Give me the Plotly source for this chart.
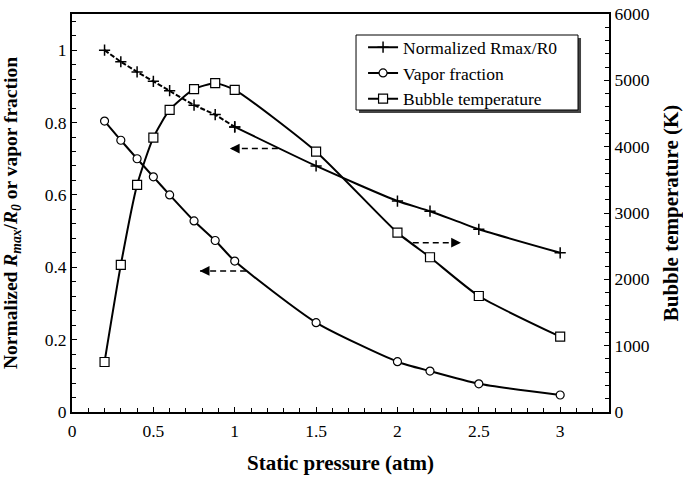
import plotly.graph_objects as go

pressure = [0.2, 0.3, 0.4, 0.5, 0.6, 0.75, 0.88, 1.0, 1.5, 2.0, 2.2, 2.5, 3.0]
rmax_norm = [1.0, 0.968, 0.940, 0.914, 0.888, 0.848, 0.822, 0.788, 0.680, 0.583, 0.555, 0.505, 0.440]
vapor_frac = [0.804, 0.751, 0.700, 0.650, 0.600, 0.528, 0.474, 0.417, 0.247, 0.139, 0.113, 0.078, 0.047]
bubble_temp = [754, 2217, 3423, 4137, 4554, 4866, 4957, 4856, 3925, 2704, 2333, 1749, 1136]

FONT = "Liberation Serif, Times New Roman, Times, serif"
fig = go.Figure()

n_dash = pressure.index(1.0) + 1
fig.add_trace(go.Scatter(
    x=pressure[n_dash - 1:], y=rmax_norm[n_dash - 1:], name="Normalized Rmax/R0",
    mode="lines+markers", line=dict(color="black", width=2, shape="spline", smoothing=0.6),
    marker=dict(symbol="cross-thin", size=8, line=dict(color="black", width=1.5))))
fig.add_trace(go.Scatter(
    x=pressure[:n_dash], y=rmax_norm[:n_dash], showlegend=False,
    mode="lines+markers", line=dict(color="black", width=2, dash="5px,2px"),
    marker=dict(symbol="cross-thin", size=8, line=dict(color="black", width=1.5))))
fig.add_trace(go.Scatter(
    x=pressure, y=vapor_frac, name="Vapor fraction",
    mode="lines+markers", line=dict(color="black", width=2, shape="spline", smoothing=0.6),
    marker=dict(symbol="circle", size=8, color="white", line=dict(color="black", width=1.2))))
fig.add_trace(go.Scatter(
    x=pressure, y=bubble_temp, name="Bubble temperature", yaxis="y2",
    mode="lines+markers", line=dict(color="black", width=2, shape="spline", smoothing=0.6),
    marker=dict(symbol="square", size=9, color="white", line=dict(color="black", width=1.2))))

arrows = [(1.265, 0.728, 0.97, 0.728), (1.07, 0.390, 0.785, 0.390), (2.094, 0.468, 2.39, 0.468)]
for tx, ty, hx, hy in arrows:
    fig.add_shape(type="line", x0=tx, y0=ty, x1=hx, y1=hy, xref="x", yref="y",
                  line=dict(color="black", width=1.5, dash="6px,4px"))
    fig.add_annotation(x=hx, y=hy, xref="x", yref="y", ax=(8 if tx > hx else -8), ay=0,
                       showarrow=True, arrowhead=2, arrowsize=1.3, arrowwidth=1.5,
                       arrowcolor="black", text=" ")

# legend frame with drop shadow
fig.add_shape(type="rect", xref="paper", yref="paper", x0=0.5345, x1=0.9479, y0=0.7513, y1=0.9397,
              fillcolor="#444", line=dict(width=0), layer="above")
fig.add_shape(type="rect", xref="paper", yref="paper", x0=0.5289, x1=0.9423, y0=0.7588, y1=0.9472,
              fillcolor="white", line=dict(color="black", width=1), layer="above")

tick_font = dict(family=FONT, size=17.5, color="black")

fig.update_layout(
    width=683, height=479, margin=dict(l=72, r=74, t=14, b=67, autoexpand=False),
    plot_bgcolor="white", paper_bgcolor="white",
    font=dict(family=FONT, color="black"),
    legend=dict(x=0.542, y=0.9616, xanchor="left", yanchor="top", bgcolor="rgba(0,0,0,0)",
                borderwidth=0, font=dict(family=FONT, size=17.5),
                tracegroupgap=0, itemwidth=30),
    xaxis=dict(range=[0, 3.3], dtick=0.5, tick0=0, ticks="inside", ticklen=5, tickwidth=1,
               tickcolor="black", showline=True, linecolor="black", linewidth=2, mirror=True,
               showgrid=False, zeroline=False, tickfont=tick_font, automargin=False,
               ticklabelstandoff=2, ticklabeloverflow="allow",
               minor=dict(dtick=0.1, ticks="inside", ticklen=4, tickcolor="black", showgrid=False),
               title=dict(text="<b>Static pressure (atm)</b>",
                          font=dict(family=FONT, size=21, color="black"), standoff=15)),
    yaxis=dict(range=[0, 1.1], dtick=0.2, tick0=0, ticks="inside", ticklen=5, tickwidth=1,
               tickcolor="black", showline=True, linecolor="black", linewidth=2,
               showgrid=False, zeroline=False, tickfont=tick_font, automargin=False,
               ticklabeloverflow="allow",
               minor=dict(dtick=0.04, ticks="inside", ticklen=4, tickcolor="black", showgrid=False),
               title=dict(text="<b>Normalized <i>R</i><sub><i>max</i></sub>/<i>R</i><sub><i>0</i></sub> or vapor fraction</b>",
                          font=dict(family=FONT, size=19.5, color="black"), standoff=27)),
    yaxis2=dict(range=[0, 6000], dtick=1000, tick0=0, overlaying="y", side="right",
                ticks="inside", ticklen=5, tickwidth=1, tickcolor="black", showline=True,
                linecolor="black", linewidth=2, showgrid=False, zeroline=False, tickfont=tick_font,
                automargin=False, ticklabeloverflow="allow",
                minor=dict(dtick=200, ticks="inside", ticklen=4, tickcolor="black", showgrid=False),
                title=dict(text="<b>Bubble temperature (K)</b>",
                           font=dict(family=FONT, size=21, color="black"), standoff=20)),
)

fig.write_html("out.html", config={"displayModeBar": False},
               post_script="document.body.style.margin='0';")
